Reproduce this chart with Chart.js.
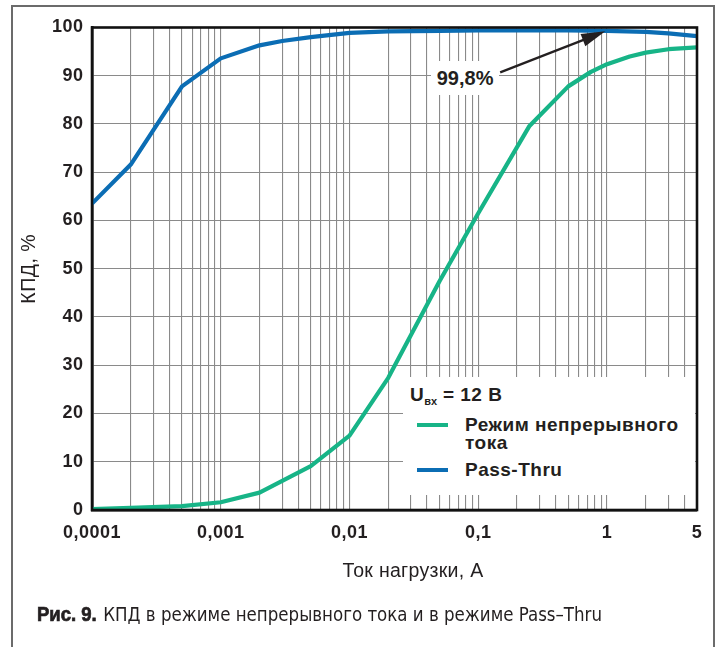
<!DOCTYPE html>
<html>
<head>
<meta charset="utf-8">
<script src="https://cdn.jsdelivr.net/npm/chart.js@4.4.1/dist/chart.umd.min.js"></script>
<style>
html,body{margin:0;padding:0;background:#fff;}
#wrap{position:relative;width:719px;height:647px;overflow:hidden;font-family:"Liberation Sans",Arial,sans-serif;color:#231f20;}
#c{position:absolute;left:0;top:0;}
#frame{position:absolute;left:11px;top:5px;width:704px;height:700px;border:2px solid #6b6b6b;box-sizing:border-box;pointer-events:none;}
#legend{position:absolute;left:403px;top:377px;width:292px;height:118px;background:#fff;font-weight:bold;font-size:19px;letter-spacing:0.5px;}
#legend .hdr{position:absolute;left:7px;top:7px;line-height:22px;white-space:nowrap;}
#legend .hdr sub{font-size:11px;vertical-align:-4px;letter-spacing:0;}
#legend .sw{position:absolute;left:14px;width:31px;height:4px;}
#legend .txt{position:absolute;left:62px;line-height:18px;white-space:nowrap;}
#note{position:absolute;background:#fff;font-weight:bold;font-size:20px;line-height:34px;width:68px;text-align:center;transform:translate(-50%,-50%);}
#xtitle{position:absolute;left:413px;top:570px;transform:translate(-50%,-50%);font-size:19.5px;line-height:22px;white-space:nowrap;letter-spacing:0.3px;}
#caption{position:absolute;left:37px;top:604px;font-size:20px;line-height:20px;white-space:nowrap;font-family:"Liberation Sans Narrow","DejaVu Sans Condensed","Roboto Condensed",sans-serif;color:#231f20;transform-origin:0 50%;}
#caption b{font-family:"Liberation Sans","Arial",sans-serif;font-weight:bold;-webkit-text-stroke:0.7px #231f20;margin-right:7px;}
</style>
</head>
<body>
<div id="wrap">
  <canvas id="c" width="719" height="647"></canvas>
  <div id="frame"></div>
  <div id="legend"></div>
  <div id="note"></div>
  <div id="xtitle"></div>
  <div id="caption"></div>
</div>
<script>
// ---- data ----
const cccCurrent = [0.0001, 0.0002, 0.0005, 0.001, 0.002, 0.005, 0.01, 0.02, 0.05, 0.1, 0.25, 0.5, 0.75, 1, 1.5, 2, 3, 5];
const cccEfficiency = [0.2, 0.45, 0.8, 1.6, 3.6, 9.1, 15.4, 27.4, 47.4, 61.5, 79.6, 87.8, 90.8, 92.4, 94.0, 94.8, 95.5, 95.9];
const passCurrent = [0.0001, 0.0002, 0.0005, 0.001, 0.002, 0.003, 0.005, 0.01, 0.02, 0.05, 0.1, 0.2, 0.5, 1, 2, 3, 5];
const passEfficiency = [63.5, 71.6, 87.8, 93.6, 96.3, 97.2, 98.0, 98.9, 99.2, 99.3, 99.4, 99.4, 99.4, 99.3, 99.1, 98.8, 98.2];
const seriesNames = ['Режим непрерывного тока', 'Pass-Thru'];
const seriesLegendLines = [['Режим непрерывного', 'тока'], ['Pass-Thru']];
const xTickValues = [0.0001, 0.001, 0.01, 0.1, 1, 5];
const xTickLabels = ['0,0001', '0,001', '0,01', '0,1', '1', '5'];
const yTickValues = [0, 10, 20, 30, 40, 50, 60, 70, 80, 90, 100];
const xTitle = 'Ток нагрузки, А';
const yTitle = 'КПД, %';
const noteText = '99,8%';
const noteLabelAt = [0.079, 89.6];
const noteTail = [0.148, 90.7];
const noteTip = [0.97, 99.2];
const captionBold = 'Рис. 9.';
const captionText = 'КПД в режиме непрерывного тока и в режиме Pass–Thru';
const legendHeaderMain = 'U';
const legendHeaderSub = 'вх';
const legendHeaderRest = ' = 12 В';

const colors = ['#17b487', '#0b6db4'];

// grid positions of the log axis (1..9 per decade, up to max)
const xMin = xTickValues[0], xMax = xTickValues[xTickValues.length - 1];
const xGrid = [];
for (let d = Math.log10(xMin); d <= 0; d++) {
  for (let m = 1; m <= 9; m++) {
    const v = Number((m * Math.pow(10, d)).toPrecision(6));
    if (v <= xMax + 1e-12) xGrid.push(v);
  }
}

const ink = '#231f20';
Chart.defaults.font.family = '"Liberation Sans", Arial, sans-serif';
Chart.defaults.color = ink;

const spacingPlugin = {
  id: 'spacing',
  beforeDraw(chart) { chart.ctx.letterSpacing = '0.5px'; }
};

const framePlugin = {
  id: 'plotFrame',
  afterDatasetsDraw(chart) {
    const {ctx, chartArea: a, scales: {x, y}} = chart;
    // arrow annotation
    const x0 = x.getPixelForValue(noteTail[0]), y0 = y.getPixelForValue(noteTail[1]);
    const x1 = x.getPixelForValue(noteTip[0]), y1 = y.getPixelForValue(noteTip[1]);
    const ang = Math.atan2(y1 - y0, x1 - x0), c = Math.cos(ang), s = Math.sin(ang);
    const hl = 24, hw = 6.5;
    const bx = x1 - hl * c, by = y1 - hl * s;
    ctx.save();
    ctx.strokeStyle = ink; ctx.fillStyle = ink; ctx.lineWidth = 2.2;
    ctx.beginPath(); ctx.moveTo(x0, y0); ctx.lineTo(bx + 2 * c, by + 2 * s); ctx.stroke();
    ctx.beginPath(); ctx.moveTo(x1, y1);
    ctx.lineTo(bx - hw * s, by + hw * c);
    ctx.lineTo(bx + hw * s, by - hw * c);
    ctx.closePath(); ctx.fill();
    // plot frame
    ctx.strokeStyle = '#111'; ctx.lineWidth = 2.6;
    ctx.strokeRect(a.left, a.top, a.right - a.left, a.bottom - a.top);
    ctx.restore();
    const note = document.getElementById('note');
    note.textContent = noteText;
    note.style.left = x.getPixelForValue(noteLabelAt[0]) + 'px';
    note.style.top = y.getPixelForValue(noteLabelAt[1]) + 'px';
  }
};

const datasets = [
  {
    label: seriesNames[0],
    data: cccCurrent.map((v, i) => ({x: v, y: cccEfficiency[i]})),
    borderColor: colors[0], backgroundColor: colors[0],
    borderWidth: 4.2, pointRadius: 0, tension: 0, borderJoinStyle: 'round'
  },
  {
    label: seriesNames[1],
    data: passCurrent.map((v, i) => ({x: v, y: passEfficiency[i]})),
    borderColor: colors[1], backgroundColor: colors[1],
    borderWidth: 4.2, pointRadius: 0, tension: 0, borderJoinStyle: 'round'
  }
];

const chart = new Chart(document.getElementById('c'), {
  type: 'line',
  data: {datasets},
  options: {
    responsive: false,
    animation: false,
    devicePixelRatio: 1,
    layout: {padding: {top: 27.5, right: 22, left: 0, bottom: 0}},
    plugins: {legend: {display: false}, tooltip: {enabled: false}},
    scales: {
      x: {
        type: 'logarithmic',
        min: xMin, max: xMax,
        afterFit(s) { s.height = 137; },
        afterBuildTicks(s) { s.ticks = xGrid.map(v => ({value: v})); },
        ticks: {
          autoSkip: false, maxRotation: 0, padding: 12.5,
          font: {size: 18, weight: 'bold'}, color: ink,
          callback(value) {
            const i = xTickValues.findIndex(t => Math.abs(t - value) / t < 1e-6);
            return i >= 0 ? xTickLabels[i] : '';
          }
        },
        grid: {color: '#8a8a8a', lineWidth: 1.1, drawTicks: false},
        border: {display: true, color: '#111', width: 2.6},
        title: {display: false, text: xTitle}
      },
      y: {
        min: yTickValues[0], max: yTickValues[yTickValues.length - 1],
        afterFit(s) { s.width = 92; },
        afterBuildTicks(s) { s.ticks = yTickValues.map(v => ({value: v})); },
        ticks: {padding: 8.5, font: {size: 18, weight: 'bold'}, color: ink},
        grid: {color: '#8a8a8a', lineWidth: 1.1, drawTicks: false},
        border: {display: true, color: '#111', width: 2.6},
        title: {display: true, text: yTitle, font: {size: 19.5, weight: 'normal'}, color: ink, padding: {top: 18, bottom: 0}}
      }
    }
  },
  plugins: [spacingPlugin, framePlugin]
});

// x axis title as page text
document.getElementById('xtitle').textContent = xTitle;

// legend built from the datasets
(function buildLegend() {
  const lg = document.getElementById('legend');
  const hdr = document.createElement('div');
  hdr.className = 'hdr';
  hdr.innerHTML = legendHeaderMain + '<sub>' + legendHeaderSub + '</sub>' + legendHeaderRest;
  lg.appendChild(hdr);
  const rowCenters = [48, 93];
  chart.data.datasets.forEach((ds, i) => {
    const sw = document.createElement('div');
    sw.className = 'sw';
    sw.style.background = ds.borderColor;
    sw.style.top = (rowCenters[i] - 2) + 'px';
    lg.appendChild(sw);
    const t = document.createElement('div');
    t.className = 'txt';
    t.style.top = (rowCenters[i] - 9) + 'px';
    t.innerHTML = seriesLegendLines[i].join('<br>');
    lg.appendChild(t);
  });
})();

const cap = document.getElementById('caption');
const b = document.createElement('b');
b.textContent = captionBold;
cap.appendChild(b);
cap.appendChild(document.createTextNode(captionText));
// squeeze the caption to the reference's condensed width
const capW = cap.getBoundingClientRect().width;
const capTarget = 565;
if (capW > capTarget) cap.style.transform = 'scaleX(' + (capTarget / capW).toFixed(4) + ')';
</script>
</body>
</html>
